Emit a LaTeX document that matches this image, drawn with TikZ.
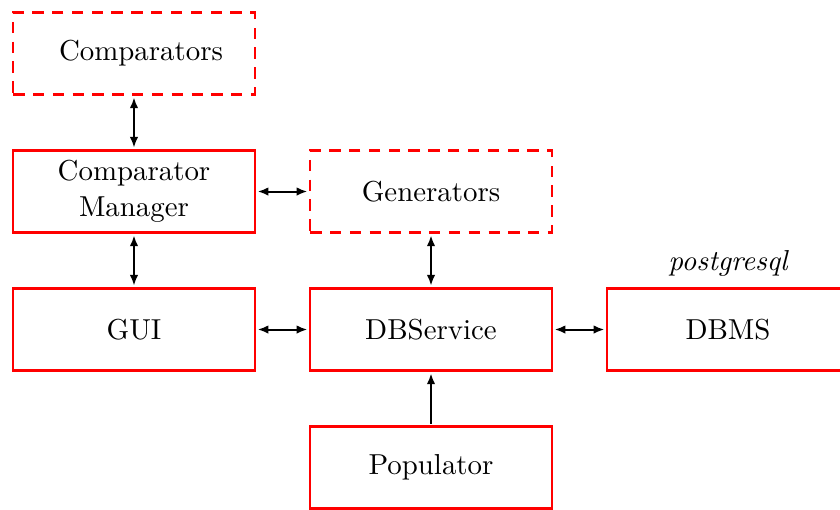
\documentclass[tikz,border=0pt]{standalone}
\usetikzlibrary{arrows.meta}
\tikzset{
  module/.style={draw=red, line width=0.75pt, minimum width=3cm, minimum height=29pt,
                 inner sep=2pt, align=center, font=\fontsize{10.2}{12.6}\selectfont, outer sep=1pt},
  planned/.style={module, dashed, dash pattern=on 4pt off 3pt},
  link/.style={line width=0.7pt, {Latex[length=3.8pt,width=3pt]}-{Latex[length=3.8pt,width=3pt]}},
  feed/.style={line width=0.7pt, -{Latex[length=3.8pt,width=3pt]}}
}
\begin{document}
\begin{tikzpicture}[x=0.01242cm, y=-0.01242cm]
  \useasboundingbox (0,0) rectangle (840,509);
  \node[planned] (cmp) at (134,53.5) {\hspace*{5pt}Comparators};
  \node[module]  (mgr) at (134,191.5) {Comparator\\Manager};
  \node[module]  (gui) at (134,329.5) {GUI};
  \node[planned] (gen) at (431,191.5) {Generators};
  \node[module]  (dbs) at (431,329.5) {DBService};
  \node[module]  (dbms) at (728,329.5) {DBMS};
  \node[module]  (pop) at (431,467.5) {Populator};
  \node[font=\fontsize{10.2}{12.6}\selectfont\itshape, anchor=base] (pg) at (728,270) {postgresql};

  \draw[link] (cmp) -- (mgr);
  \draw[link] (mgr) -- (gen);
  \draw[link] (mgr) -- (gui);
  \draw[link] (gui) -- (dbs);
  \draw[link] (gen) -- (dbs);
  \draw[link] (dbs) -- (dbms);
  \draw[feed] (pop) -- (dbs);
\end{tikzpicture}
\end{document}
